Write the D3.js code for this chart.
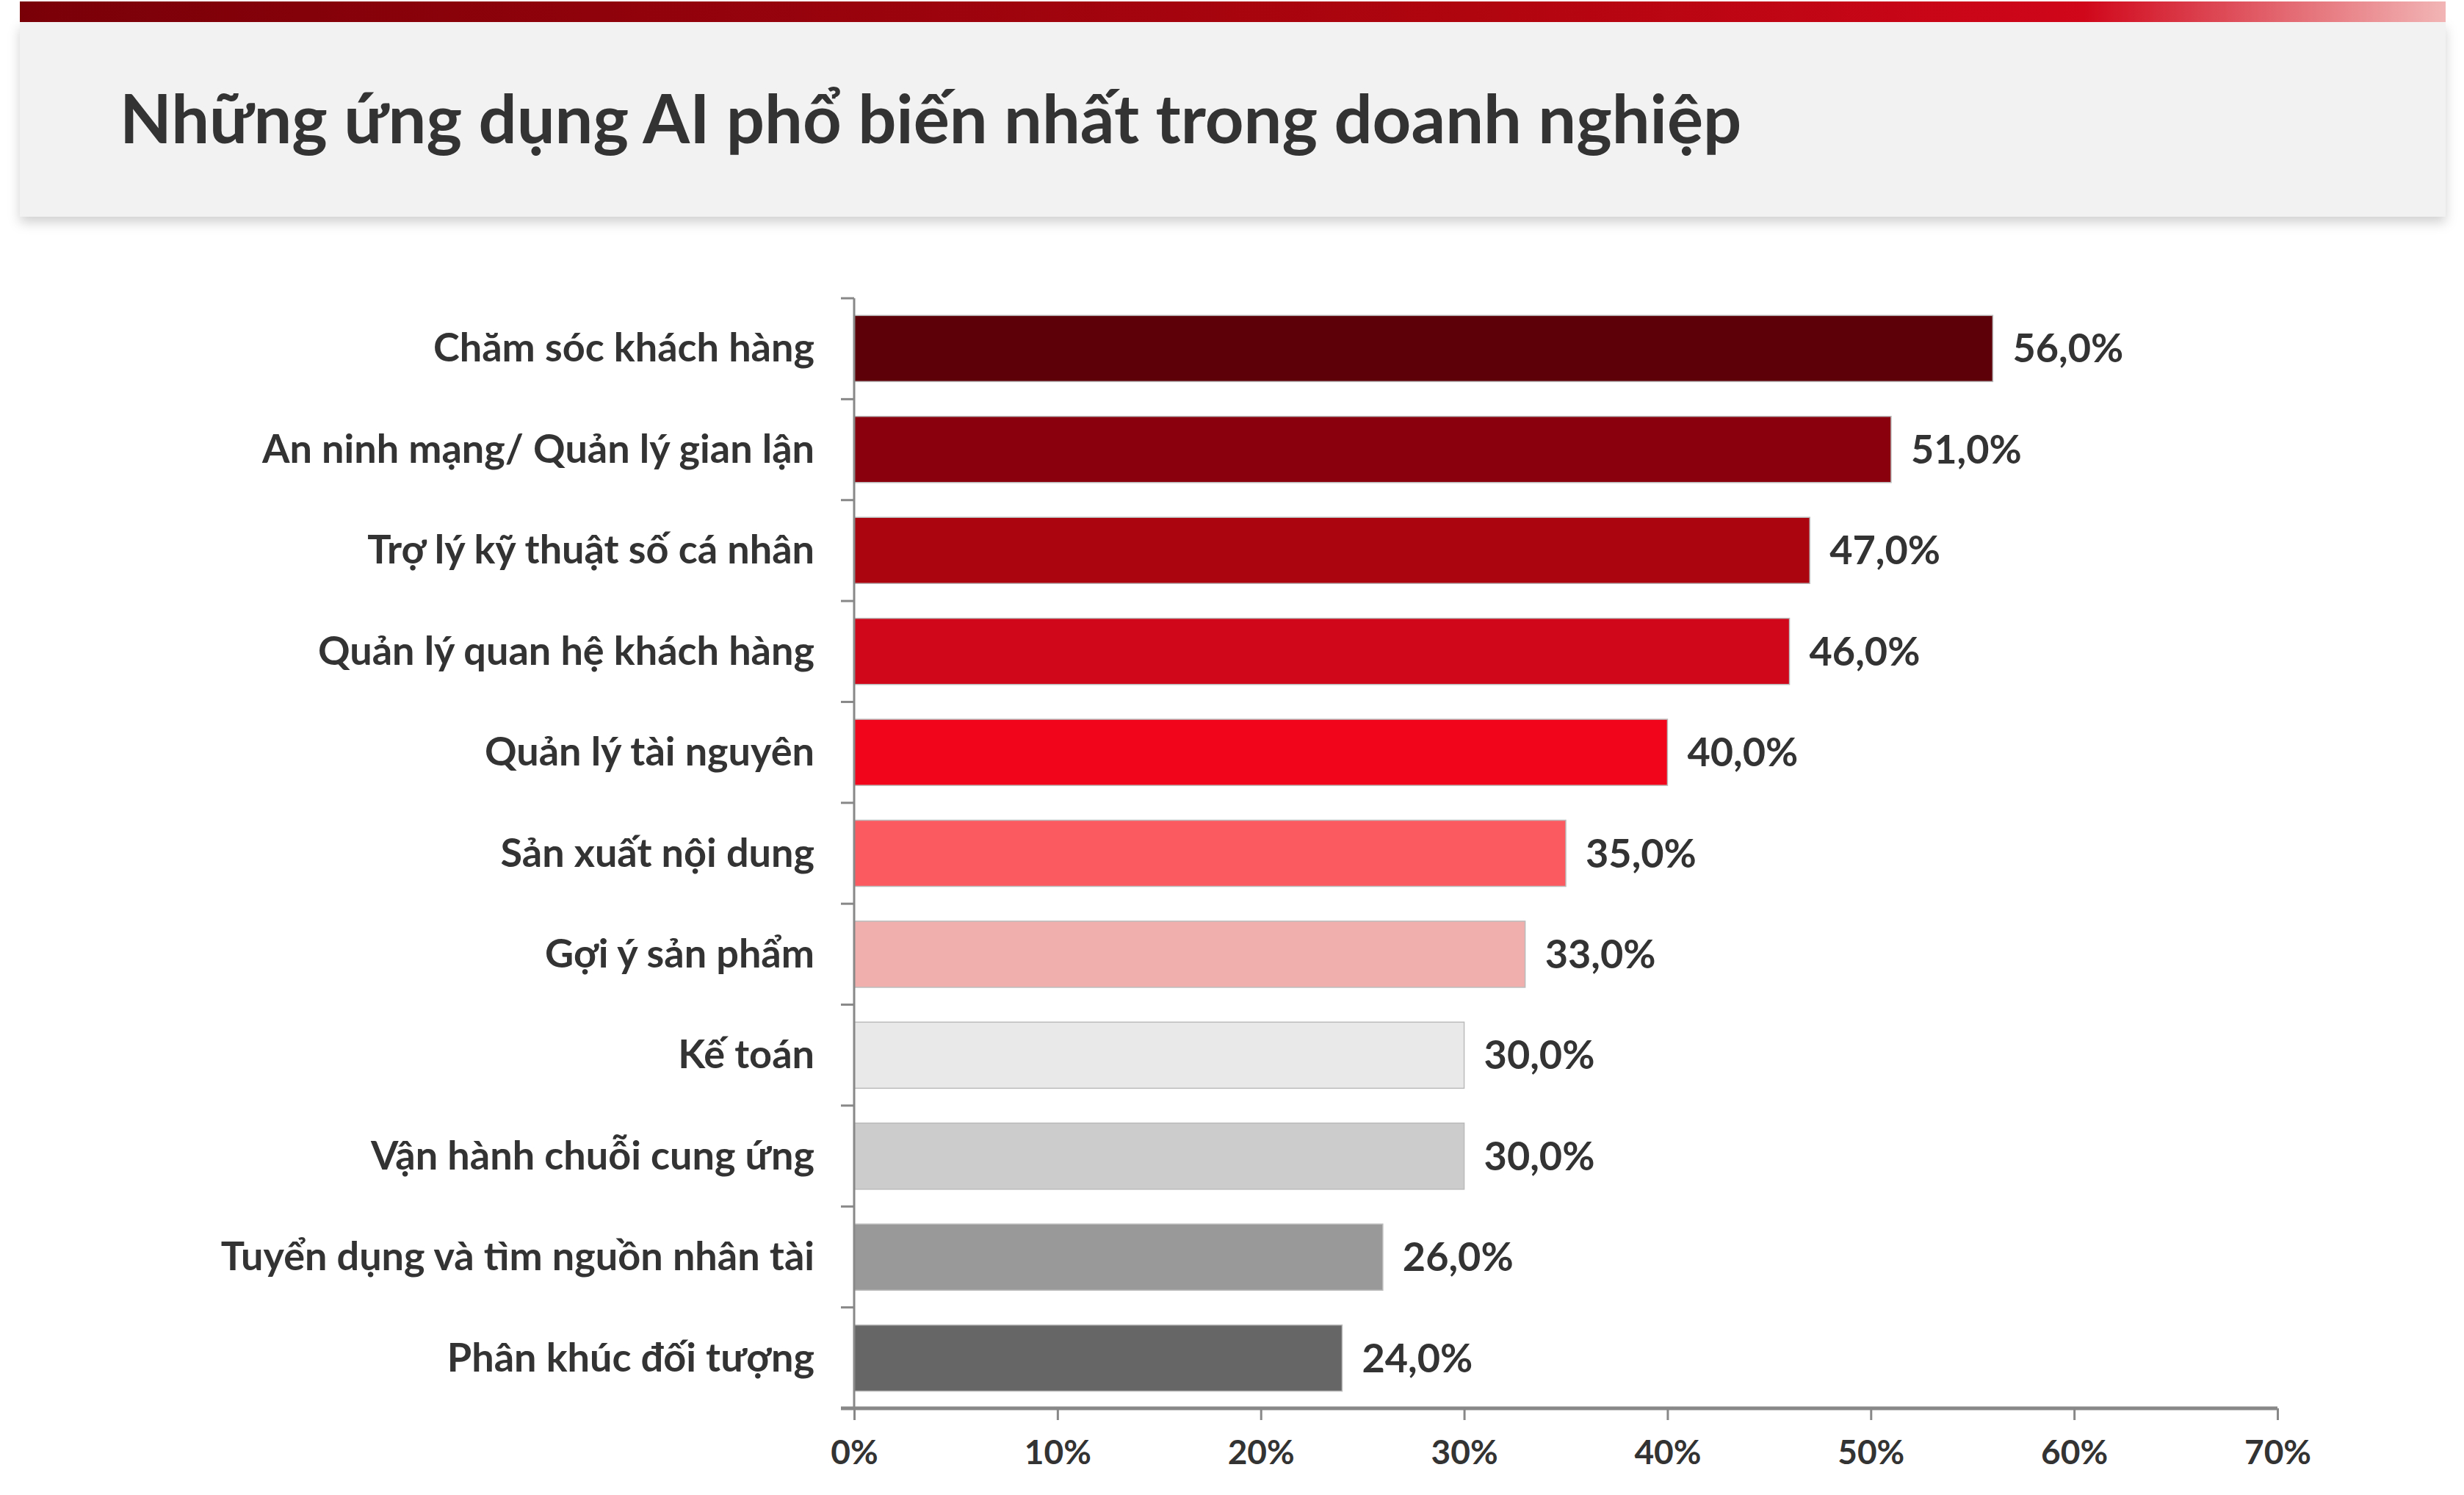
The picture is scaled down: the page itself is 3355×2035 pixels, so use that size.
<!DOCTYPE html>
<html><head><meta charset="utf-8">
<script src="https://cdn.jsdelivr.net/npm/d3@7"></script>
<style>html,body{margin:0;padding:0;background:#fff;}svg{display:block;font-family:Lato,"Noto Sans",sans-serif;}</style>
</head><body>
<script>
const categories=["Chăm sóc khách hàng","An ninh mạng/ Quản lý gian lận","Trợ lý kỹ thuật số cá nhân","Quản lý quan hệ khách hàng","Quản lý tài nguyên","Sản xuất nội dung","Gợi ý sản phẩm","Kế toán","Vận hành chuỗi cung ứng","Tuyển dụng và tìm nguồn nhân tài","Phân khúc đối tượng"];
const values=[56,51,47,46,40,35,33,30,30,26,24];
const colors=["#5e0008","#8a000d","#ab0510","#d0061a","#f1051b","#fc5a61","#f0aeac","#e9e9e9","#cccccc","#999999","#666666"];
const tickValues=[0,10,20,30,40,50,60,70];
const title="Những ứng dụng AI phổ biến nhất trong doanh nghiệp";

const W=3355,H=2035;
const svg=d3.select("body").append("svg").attr("width",W).attr("height",H);
const defs=svg.append("defs");
const g1=defs.append("linearGradient").attr("id","topg");
[["0%","#7a0008"],["60%","#b0050f"],["85%","#d0061a"],["100%","#f2b5b5"]].forEach(s=>g1.append("stop").attr("offset",s[0]).attr("stop-color",s[1]));
const f=defs.append("filter").attr("id","sh").attr("x","-5%").attr("y","-20%").attr("width","110%").attr("height","150%");
f.append("feDropShadow").attr("dx",0).attr("dy",8).attr("stdDeviation",8).attr("flood-color","#000").attr("flood-opacity",0.18);

svg.append("rect").attr("x",27).attr("y",30).attr("width",3303).attr("height",265).attr("fill","#f2f2f2").attr("filter","url(#sh)");
svg.append("rect").attr("x",27).attr("y",2).attr("width",3303).attr("height",28).attr("fill","url(#topg)");
svg.append("text").attr("x",163).attr("y",195).attr("font-size",92).attr("font-weight",700).attr("fill","#333").text(title);

const x=d3.scaleLinear().domain([0,70]).range([1163,3101]);
const y=d3.scaleBand().domain(categories).range([406,1917]).paddingInner(0.345).paddingOuter(0.17);

svg.selectAll(".bar").data(values).join("rect")
 .attr("x",x(0)).attr("y",(d,i)=>y(categories[i])).attr("width",d=>x(d)-x(0)).attr("height",y.bandwidth())
 .attr("fill",(d,i)=>colors[i]).attr("stroke","#bbb").attr("stroke-width",1.5);
svg.selectAll(".val").data(values).join("text")
 .attr("x",d=>x(d)+27).attr("y",(d,i)=>y(categories[i])+y.bandwidth()/2+19)
 .attr("font-size",54).attr("font-weight",700).attr("fill","#333")
 .text(d=>d.toFixed(1).replace(".",",")+"%");

const xa=svg.append("g").attr("transform","translate(0,1917)")
 .call(d3.axisBottom(x).tickValues(tickValues).tickSize(16).tickFormat(d=>d+"%"));
xa.select(".domain").attr("stroke","#888").attr("stroke-width",5).attr("d","M1145,0H3101");
xa.selectAll(".tick line").attr("stroke","#888").attr("stroke-width",3);
xa.selectAll(".tick text").attr("font-size",46).attr("font-weight",700).attr("fill","#333").attr("dy",0).attr("y",76).attr("font-family","Lato,'Noto Sans',sans-serif");

// category axis
const step=y.step();
const bounds=d3.range(0,categories.length+1).map(i=>406+i*((1917-406)/categories.length));
svg.append("line").attr("x1",1163).attr("x2",1163).attr("y1",406).attr("y2",1917).attr("stroke","#888").attr("stroke-width",3);
svg.selectAll(".ctick").data(bounds.slice(0,-1)).join("line").attr("x1",1145).attr("x2",1163).attr("y1",d=>d).attr("y2",d=>d).attr("stroke","#888").attr("stroke-width",3);
svg.selectAll(".clab").data(categories).join("text")
 .attr("x",1109).attr("y",d=>y(d)+y.bandwidth()/2+18).attr("text-anchor","end")
 .attr("font-size",54).attr("font-weight",700).attr("fill","#333").text(d=>d);
</script>
</body></html>
